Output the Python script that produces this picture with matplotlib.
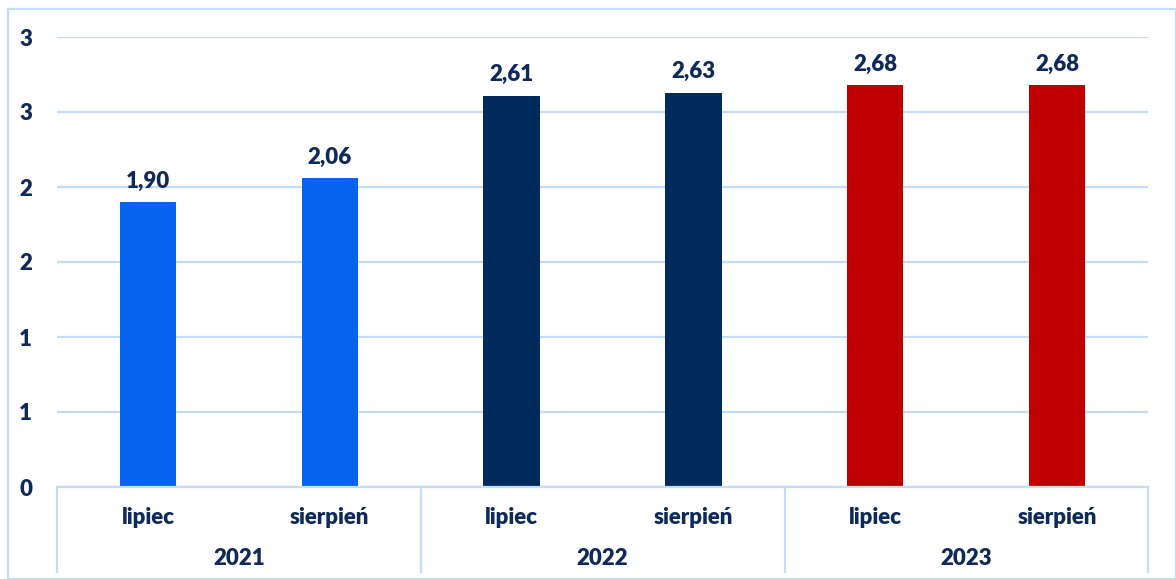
import matplotlib
matplotlib.use("Agg")
import matplotlib.pyplot as plt
from matplotlib.patches import Rectangle
from matplotlib.lines import Line2D

months = ["lipiec", "sierpień", "lipiec", "sierpień", "lipiec", "sierpień"]
years = ["2021", "2022", "2023"]
values = [1.90, 2.06, 2.61, 2.63, 2.68, 2.68]
colors = ["#0563EE", "#0563EE", "#002B5C", "#002B5C", "#C00000", "#C00000"]
yticks = [0, 0.5, 1, 1.5, 2, 2.5, 3]
ytick_labels = ["0", "1", "1", "2", "2", "3", "3"]

txt = "#0E2A5C"
grid = "#C5DCF7"
plt.rcParams['font.family'] = ['Lato', 'DejaVu Sans']
FS = 16
FW = "heavy"

W, H = 1176, 579
fig = plt.figure(figsize=(W/100, H/100), dpi=100)
ax = fig.add_axes([57/W, (H-487)/H, (1148-57)/W, (487-37)/H])

x = list(range(len(values)))
ax.bar(x, values, width=0.31, color=colors, zorder=3)
for xi, v in zip(x, values):
    ax.text(xi, v + 0.07, f"{v:.2f}".replace(".", ","), ha="center", va="bottom",
            fontsize=FS, fontweight=FW, color=txt)

ax.set_xlim(-0.5, len(values) - 0.5)
ax.set_ylim(0, 3)
ax.set_yticks(yticks)
ax.set_yticklabels(ytick_labels, fontsize=FS, fontweight=FW, color=txt)
ax.tick_params(axis="y", length=0, pad=18)
ax.set_xticks([])
ax.yaxis.grid(True, color=grid, linewidth=1.6, zorder=0)
for s in ax.spines.values():
    s.set_visible(False)

# category axis
fig.add_artist(Line2D([57/W, 1148/W], [(H-487)/H]*2, color=grid, lw=1.6))
for xb in [57, 421, 785, 1148]:
    fig.add_artist(Line2D([xb/W]*2, [(H-487)/H, (H-572)/H], color=grid, lw=1.6))
for xi, m in zip(x, months):
    ax.text(xi, -0.2, m, ha="center", va="center", fontsize=FS, fontweight=FW,
            color=txt, clip_on=False)
for i, yr in enumerate(years):
    ax.text(2*i + 0.5, -0.475, yr, ha="center", va="center", fontsize=FS, fontweight=FW,
            color=txt, clip_on=False)

# outer frame
fig.add_artist(Rectangle((8/W, 0), (W-8)/W, (H-9)/H, fill=False, edgecolor=grid, lw=1.6,
                         transform=fig.transFigure))

fig.savefig("out.png", dpi=100)
